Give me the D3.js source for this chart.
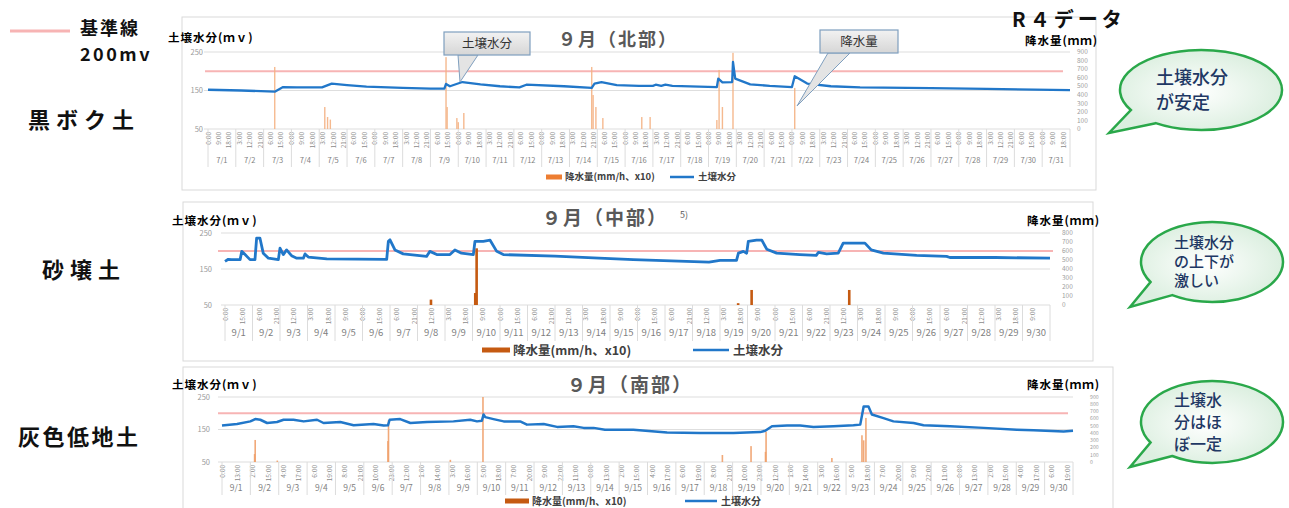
<!DOCTYPE html>
<html>
<head>
<meta charset="utf-8">
<script src="https://cdn.jsdelivr.net/npm/d3@7"></script>
<style>
body { margin: 0; background: #fff; }
svg { display: block; }
text { font-family: 'Noto Sans CJK JP', 'Noto Sans', sans-serif; }
</style>
</head>
<body>
<svg id="chart" width="1289" height="508"></svg>
<script>
//---------------------------------//
// Data     //
//---------------------------------//

// soil moisture [day offset, mV]
const moistNorth = [[0,152],[1.2,150],[2.4,147],[2.7,159],[3.2,158],[4.1,158],[4.45,168],[5.0,164],[5.7,160],[7.0,157],[8.0,155],[8.5,155],[8.56,167],[8.7,161],[9.15,172],[9.8,166],[10.5,161],[11.2,158],[11.45,165],[12.8,161],[13.8,157],[13.9,168],[14.15,172],[14.7,164],[15.5,162],[16.0,162],[16.1,165],[16.3,162],[16.45,165],[16.7,162],[18.3,159],[18.35,181],[18.5,171],[18.85,172],[18.88,224],[18.96,181],[19.5,166],[20.2,162],[21.0,159],[21.1,187],[21.55,168],[22.4,161],[23.45,158],[26,156],[28,154],[31,151]];
const moistMid = [[0,171],[0.12,177],[0.24,176],[0.55,176],[0.61,199],[0.73,190],[0.91,176],[1.09,176],[1.15,236],[1.27,236],[1.39,194],[1.58,180],[1.94,176],[2.0,208],[2.12,190],[2.24,203],[2.42,187],[2.61,180],[2.85,180],[2.91,192],[3.03,183],[3.7,178],[5.88,177],[5.94,227],[6.0,231],[6.18,203],[6.48,192],[7.33,185],[7.45,199],[7.7,190],[8.18,190],[8.36,203],[8.6,194],[9.03,190],[9.09,227],[9.39,227],[9.64,230],[9.88,199],[10.12,190],[12,186],[13.6,180],[14.85,176],[16.5,172],[17.6,169],[18.0,174],[18.6,174],[18.67,194],[18.85,199],[18.97,194],[19.03,227],[19.33,230],[19.52,230],[19.7,205],[20.06,194],[20.9,190],[21.5,188],[21.58,196],[21.88,192],[22.3,194],[22.48,222],[23.27,222],[23.5,203],[23.94,194],[25.15,188],[26.24,185],[26.36,182],[28,182],[30,180]];
const moistSouth = [[0,162],[0.53,167],[1.0,175],[1.17,182],[1.35,180],[1.59,170],[1.94,173],[2.17,180],[2.52,180],[2.88,175],[3.35,180],[3.58,170],[4.17,173],[4.64,163],[5.34,167],[5.7,162],[5.85,163],[5.91,180],[6.28,182],[6.64,170],[7.23,173],[8.16,175],[8.75,180],[8.99,175],[9.16,177],[9.22,196],[9.28,188],[9.57,182],[9.93,175],[10.51,175],[10.75,165],[11.34,167],[11.81,158],[12.39,160],[12.75,155],[13.1,155],[13.5,149],[14.5,149.5],[15.69,141],[16.86,139],[18.03,139],[18.97,142],[19.15,146],[19.39,160],[19.92,162],[20.38,162],[20.85,158],[21.56,160],[22.26,163],[22.5,165],[22.62,221],[22.79,221],[22.91,196],[23.32,185],[23.67,175],[24.38,170],[24.73,163],[25.67,160],[26.85,155],[28.02,149.5],[28.61,147.5],[29.67,144],[30,146]];

// rainfall [day offset, mm/h x10]
const rainNorth = [[2.4,725],[4.2,257],[4.3,140],[4.4,110],[8.56,840],[8.6,257],[8.95,128],[9.0,80],[9.2,187],[13.8,725],[13.85,397],[13.95,257],[14.2,128],[15.6,140],[15.9,140],[18.3,105],[18.38,690],[18.5,257],[18.88,890],[21.1,480]];
const rainMid = [[7.49,60],[9.1,133],[9.15,630],[18.66,20],[19.15,167],[22.7,167]];
const rainSouth = [[1.15,110],[1.17,305],[1.95,20],[5.85,290],[5.87,580],[8.05,30],[9.2,900],[17.64,97],[18.65,220],[19.16,140],[19.18,420],[21.5,55],[22.56,370],[22.62,300],[22.7,610]];

// axes
const moistTicks = [50, 150, 250];
const rainTicks900 = [0, 100, 200, 300, 400, 500, 600, 700, 800, 900];
const rainTicks800 = [0, 100, 200, 300, 400, 500, 600, 700, 800];
const baseLine = 200; // 基準線 200mv

const legendRain = '降水量(mm/h、x10)';
const legendMoist = '土壌水分';

//---------------------------------//
// Drawing                         //
//---------------------------------//

const svg = d3.select('#chart');
svg.append('rect').attr('width', 1289).attr('height', 508).attr('fill', '#fff');

const defs = svg.append('defs');
const gBub = defs.append('radialGradient').attr('id', 'bubFill');
gBub.append('stop').attr('offset', '0%').attr('stop-color', '#ffffff');
gBub.append('stop').attr('offset', '100%').attr('stop-color', '#dcefe0');
const gCall = defs.append('linearGradient').attr('id', 'callFill').attr('x1', 0).attr('y1', 0).attr('x2', 0).attr('y2', 1);
gCall.append('stop').attr('offset', '0%').attr('stop-color', '#f2f2f2');
gCall.append('stop').attr('offset', '100%').attr('stop-color', '#d6d6d6');

function drawPanel(p) {
    const g = svg.append('g');

    g.append('rect')
        .attr('x', p.frame[0]).attr('y', p.frame[1])
        .attr('width', p.frame[2] - p.frame[0]).attr('height', p.frame[3] - p.frame[1])
        .attr('fill', '#fff').attr('stroke', '#d9d9d9');

    const x = d3.scaleLinear().domain([0, p.days]).range([p.x0, p.x1]);
    const yL = d3.scaleLinear().domain([50, 250]).range([p.yb, p.yt]);
    const yR = d3.scaleLinear().domain([0, d3.max(p.rainTicks)]).range([p.yb, p.yt]);

    // gridlines + left labels
    g.selectAll('.grid').data(moistTicks).enter().append('line')
        .attr('x1', p.x0 - 4).attr('x2', p.x1)
        .attr('y1', d => yL(d)).attr('y2', d => yL(d))
        .attr('stroke', '#dedede').attr('stroke-width', 1.2);
    g.selectAll('.ltick').data(moistTicks).enter().append('text')
        .attr('x', p.leftLabelX).attr('y', d => yL(d) + 2.5)
        .attr('text-anchor', 'end').attr('font-size', 7.5).attr('fill', '#9a9a9a')
        .text(d => d);

    // right labels
    g.selectAll('.rtick').data(p.rainTicks).enter().append('text')
        .attr('x', p.rightLabelX).attr('y', d => yR(d) + p.rightFont * 0.35)
        .attr('font-size', p.rightFont).attr('fill', '#a0a0a0')
        .text(d => d);

    // reference line
    g.append('line')
        .attr('x1', p.refX0).attr('x2', p.refX1)
        .attr('y1', yL(baseLine)).attr('y2', yL(baseLine))
        .attr('stroke', '#f7b4b4').attr('stroke-width', 2);

    // rainfall bars
    g.selectAll('.bar').data(p.rain).enter().append('rect')
        .attr('x', d => x(d[0]) - p.barW / 2)
        .attr('y', d => yR(d[1]))
        .attr('width', p.barW)
        .attr('height', d => yR(0) - yR(d[1]))
        .attr('fill', p.barColor).attr('opacity', p.barOpacity);

    // soil moisture
    g.append('path').datum(p.moist)
        .attr('d', d3.line().x(d => x(d[0])).y(d => yL(d[1])))
        .attr('fill', 'none').attr('stroke', '#2177c9')
        .attr('stroke-width', p.lineW).attr('stroke-linejoin', 'round');

    // x axis: hours + days
    const hours = d3.range(0, p.days * 24, p.hourStep);
    g.selectAll('.htick').data(hours).enter().append('text')
        .attr('transform', d => 'translate(' + (x(d / 24) + 2.5) + ',' + (p.yb + 3) + ') rotate(-90)')
        .attr('text-anchor', 'end').attr('font-size', 6.5).attr('fill', '#8c8c8c')
        .text(d => (d % 24) + ':00');

    const days = d3.range(0, p.days);
    g.selectAll('.sep').data(d3.range(0, p.days + 1)).enter().append('line')
        .attr('x1', d => x(d)).attr('x2', d => x(d))
        .attr('y1', p.yb).attr('y2', p.sepBottom)
        .attr('stroke', '#dcdcdc');
    g.selectAll('.dlab').data(days).enter().append('text')
        .attr('x', d => x(d + 0.5)).attr('y', p.dayLabelY)
        .attr('text-anchor', 'middle').attr('font-size', p.dayFont).attr('fill', '#7f7f7f')
        .text(d => p.month + '/' + (d + 1));

    // titles
    g.append('text').attr('x', p.title[0]).attr('y', p.title[1])
        .attr('text-anchor', 'middle').attr('font-size', p.titleFont).attr('font-weight', 'bold')
        .attr('fill', '#595959').attr('letter-spacing', 2).text(p.titleText);
    g.append('text').attr('x', p.leftTitle[0]).attr('y', p.leftTitle[1])
        .attr('font-size', 11.5).attr('font-weight', 'bold').attr('fill', '#000')
        .attr('letter-spacing', 1).text('土壌水分(ｍｖ)');
    g.append('text').attr('x', p.rightTitle[0]).attr('y', p.rightTitle[1])
        .attr('font-size', 11.5).attr('font-weight', 'bold').attr('fill', '#000')
        .attr('letter-spacing', 1).text('降水量(ｍｍ)');

    // legend
    const lg = g.append('g').attr('transform', 'translate(' + p.legend[0] + ',' + p.legend[1] + ')');
    lg.append('rect').attr('x', 0).attr('y', -2.5).attr('width', p.swatchW).attr('height', 5).attr('fill', p.legendBar);
    lg.append('text').attr('x', p.swatchW + 3).attr('y', p.legendFont * 0.36)
        .attr('font-size', p.legendFont).attr('font-weight', 'bold').attr('fill', '#404040').text(legendRain);
    lg.append('line').attr('x1', p.lineLegX).attr('x2', p.lineLegX + p.swatchW + 8)
        .attr('stroke', '#2177c9').attr('stroke-width', 2.5);
    lg.append('text').attr('x', p.lineLegX + p.swatchW + 12).attr('y', p.legendFont * 0.36)
        .attr('font-size', p.legendFont).attr('font-weight', 'bold').attr('fill', '#404040').text(legendMoist);

    return { x: x, yL: yL, yR: yR };
}

drawPanel({
    frame: [182, 17, 1096, 190], x0: 208, x1: 1070, yt: 52, yb: 129,
    days: 31, month: 7, hourStep: 9, rainTicks: rainTicks900, rightFont: 6.5,
    moist: moistNorth, rain: rainNorth,
    leftLabelX: 203, rightLabelX: 1077, refX0: 205, refX1: 1063,
    barW: 1.4, barColor: '#f4b183', barOpacity: 0.9, lineW: 2.3,
    sepBottom: 167, dayLabelY: 163, dayFont: 7.5,
    title: [618, 46], titleFont: 18, titleText: '９月（北部）',
    leftTitle: [168, 42], rightTitle: [1025, 45],
    legend: [546, 177], swatchW: 16, legendFont: 9.5, lineLegX: 124, legendBar: '#ed7d31'
});

drawPanel({
    frame: [183, 202, 1093, 361], x0: 225, x1: 1050, yt: 233, yb: 305,
    days: 30, month: 9, hourStep: 15, rainTicks: rainTicks800, rightFont: 6.5,
    moist: moistMid, rain: rainMid,
    leftLabelX: 212, rightLabelX: 1062, refX0: 218, refX1: 1053,
    barW: 2.6, barColor: '#c55a11', barOpacity: 1, lineW: 2.8,
    sepBottom: 341, dayLabelY: 336, dayFont: 9.5,
    title: [605, 225], titleFont: 19, titleText: '９月（中部）',
    leftTitle: [172, 225], rightTitle: [1027, 225],
    legend: [482, 350], swatchW: 28, legendFont: 12.5, lineLegX: 211, legendBar: '#c55a11'
});

drawPanel({
    frame: [183, 367, 1113, 530], x0: 222, x1: 1073, yt: 397, yb: 462,
    days: 30, month: 9, hourStep: 13, rainTicks: rainTicks900, rightFont: 5.2,
    moist: moistSouth, rain: rainSouth,
    leftLabelX: 210, rightLabelX: 1090, refX0: 218, refX1: 1068,
    barW: 1.6, barColor: '#f0a06a', barOpacity: 0.9, lineW: 2.5,
    sepBottom: 495, dayLabelY: 491, dayFont: 8.5,
    title: [630, 392], titleFont: 19, titleText: '９月（南部）',
    leftTitle: [172, 389], rightTitle: [1027, 389],
    legend: [505, 501], swatchW: 24, legendFont: 10, lineLegX: 180, legendBar: '#c55a11'
});

// superscript on the middle title
svg.append('text').attr('x', 680).attr('y', 218).attr('font-size', 9).attr('fill', '#595959').text('5)');

// callouts on panel 1
function callout(box, base, tip, label) {
    const g = svg.append('g');
    g.append('path')
        .attr('d', 'M' + base[0] + ',' + box[3] + 'L' + tip[0] + ',' + tip[1] + 'L' + base[1] + ',' + box[3] + 'Z')
        .attr('fill', '#e4e4e4').attr('stroke', '#7f9fbf').attr('stroke-width', 1);
    g.append('rect').attr('x', box[0]).attr('y', box[1])
        .attr('width', box[2] - box[0]).attr('height', box[3] - box[1])
        .attr('fill', 'url(#callFill)').attr('stroke', '#7f9fbf').attr('stroke-width', 1.2);
    g.append('text').attr('x', (box[0] + box[2]) / 2).attr('y', (box[1] + box[3]) / 2 + 4.5)
        .attr('text-anchor', 'middle').attr('font-size', 12.5).attr('fill', '#333').text(label);
}
callout([444, 32, 530, 55], [458, 478], [460, 82], '土壌水分');
callout([820, 30, 898, 53], [828, 850], [797, 106], '降水量');

// speech bubbles
function bubble(cx, cy, rx, ry, tip, lines, fontSize, tx, lineH) {
    const a1 = 150 * Math.PI / 180, a2 = 124 * Math.PI / 180;
    const p1 = [cx + rx * Math.cos(a1), cy + ry * Math.sin(a1)];
    const p2 = [cx + rx * Math.cos(a2), cy + ry * Math.sin(a2)];
    svg.append('path')
        .attr('d', 'M' + p2 + 'L' + tip + 'L' + p1 + 'A' + rx + ',' + ry + ' 0 1 1 ' + p2 + 'Z')
        .attr('fill', 'url(#bubFill)').attr('stroke', '#2aa84a').attr('stroke-width', 2.5);
    svg.selectAll(null).data(lines).enter().append('text')
        .attr('x', tx).attr('y', (d, i) => cy - (lines.length - 1) * lineH / 2 + i * lineH + fontSize * 0.36)
        .attr('font-size', fontSize).attr('font-weight', 500).attr('fill', '#1f3864')
        .text(d => d);
}
bubble(1201, 90, 81, 40, [1109, 133], ['土壌水分', 'が安定'], 18, 1156, 25);
bubble(1212, 262, 71, 40, [1130, 307], ['土壌水分', 'の上下が', '激しい'], 15, 1174, 19);
bubble(1212, 422, 71, 41, [1130, 467], ['土壌水', '分はほ', 'ぼ一定'], 16, 1174, 22);

// row labels and top legend
const serif = "'Liberation Serif', 'Noto Sans CJK JP', serif";
function label(xp, yp, s, size, spacing) {
    svg.append('text').attr('x', xp).attr('y', yp).attr('font-size', size)
        .attr('font-family', serif).attr('font-weight', 'bold').attr('fill', '#111')
        .attr('letter-spacing', spacing).text(s);
}
label(28, 128, '黒ボク土', 22, 6);
label(42, 278, '砂壌土', 22, 6);
label(18, 445, '灰色低地土', 22, 2.5);

svg.append('line').attr('x1', 10).attr('x2', 70).attr('y1', 31).attr('y2', 31)
    .attr('stroke', '#f7b4b4').attr('stroke-width', 3);
label(80, 35, '基準線', 18, 2);
label(80, 61, '200mv', 18, 2.5);
label(1012, 27, 'R４データ', 20, 4);
</script>
</body>
</html>
